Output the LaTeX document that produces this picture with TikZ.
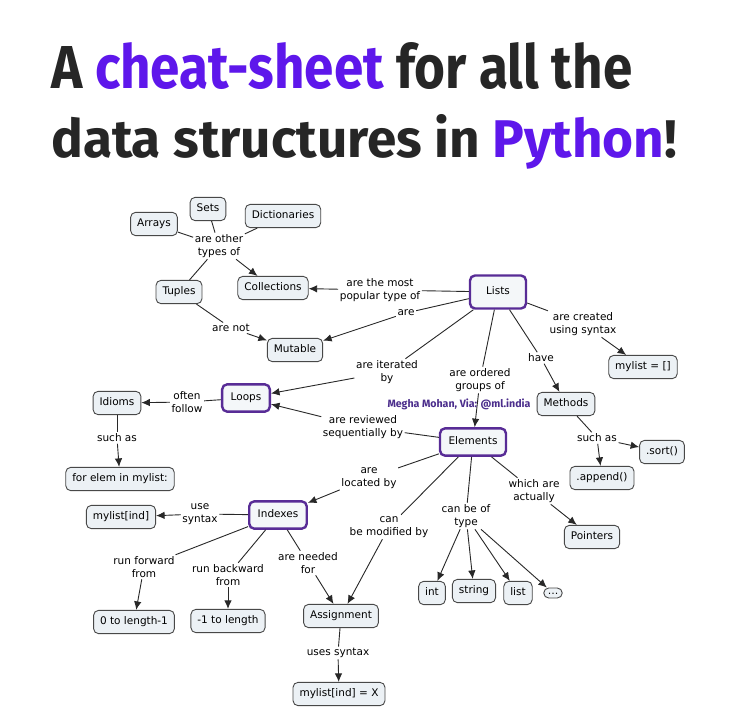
\documentclass[tikz,border=0pt]{standalone}
\usepackage{fontspec}
\setmainfont{DejaVu Sans}
\newfontfamily\titlefont{Fira Sans}
\usetikzlibrary{arrows.meta,positioning}

\definecolor{titlegray}{RGB}{38,38,38}
\definecolor{titlepurple}{RGB}{94,23,235}
\definecolor{keypurple}{RGB}{88,44,150}
\definecolor{markpurple}{RGB}{75,45,140}
\definecolor{boxfill}{RGB}{236,241,245}
\definecolor{linegray}{RGB}{40,40,40}

\tikzset{
    concept/.style={draw=linegray!85, fill=boxfill, rounded corners=5pt, line width=0.9pt,
        inner xsep=6.5pt, inner ysep=6.5pt, text height=7.8pt, text depth=2.5pt,
        font=\fontsize{10.5}{12}\selectfont},
    keyconcept/.style={concept, draw=keypurple, line width=2.4pt, inner xsep=8.5pt, inner ysep=8.5pt,
        fill=boxfill!60},
    link/.style={align=center, inner sep=1.5pt, font=\fontsize{10.5}{13}\selectfont},
    wire/.style={draw=linegray, line width=0.9pt},
    arrow/.style={wire, -{Latex[length=8.5pt,width=7.5pt]}},
}

\begin{document}
\begin{tikzpicture}[x=1pt, y=-1pt]
    \fill[white] (0,0) rectangle (750,710);
    \useasboundingbox (0,0) rectangle (750,710);

    % Title
    \node[anchor=base west, inner sep=0] (title1) at (51,88)
        {\resizebox{581pt}{46pt}{\titlefont\bfseries\color{titlegray}A \textcolor{titlepurple}{cheat-sheet} for all the}};
    \node[anchor=base west, inner sep=0] (title2) at (51,157)
        {\resizebox{626pt}{!}{\titlefont\bfseries\color{titlegray}data structures in \textcolor{titlepurple}{Python}!}};

    % Concepts
    \node[concept] (sets) at (208,209) {Sets};
    \node[concept] (arrays) at (154,224) {Arrays};
    \node[concept] (dicts) at (283,216) {Dictionaries};
    \node[concept] (tuples) at (179,292) {Tuples};
    \node[concept] (collections) at (273,288) {Collections};
    \node[concept] (mutable) at (295,350) {Mutable};
    \node[keyconcept, minimum width=56pt, minimum height=33pt] (lists) at (498,292) {Lists};
    \node[concept] (newlist) at (643,367) {mylist = []};
    \node[concept] (methods) at (566,404) {Methods};
    \node[keyconcept] (loops) at (246,398) {Loops};
    \node[concept] (idioms) at (117,403) {Idioms};
    \node[keyconcept] (elements) at (473,442) {Elements};
    \node[concept] (sort) at (662,452) {.sort()};
    \node[concept] (forelem) at (120,479) {for elem in mylist:};
    \node[concept] (append) at (602,478) {.append()};
    \node[concept] (getitem) at (121,517) {mylist[ind]};
    \node[keyconcept] (indexes) at (278,515) {Indexes};
    \node[concept] (pointers) at (592,537) {Pointers};
    \node[concept] (fwd) at (134,622) {0 to length-1};
    \node[concept] (bwd) at (228,621) {-1 to length};
    \node[concept] (assign) at (341,616) {Assignment};
    \node[concept] (tint) at (432,593) {int};
    \node[concept] (tstr) at (474,591) {string};
    \node[concept] (tlist) at (518,593) {list};
    \node[concept, inner xsep=4pt, inner ysep=3pt, text height=3pt, text depth=1pt] (tmore) at (553,593) {\dots};
    \node[concept] (setitem) at (339,694) {mylist[ind] = X};

    % Linking phrases
    \node[link] (othertypes) at (219,246) {are other\\types of};
    \node[link] (popular) at (380,290) {are the most\\popular type of};
    \node[link] (arenot) at (231,328) {are not};
    \node[link] (are) at (406,313) {are};
    \node[link] (created) at (583,324) {are created\\using syntax};
    \node[link] (have) at (541,358) {have};
    \node[link] (iterated) at (387,372) {are iterated\\by};
    \node[link] (ordered) at (480,380) {are ordered\\groups of};
    \node[link] (follow) at (187,402) {often\\follow};
    \node[link] (reviewed) at (363,427) {are reviewed\\sequentially by};
    \node[link] (idiomsuch) at (117,438) {such as};
    \node[link] (methodsuch) at (597,438) {such as};
    \node[link] (located) at (369,478) {are\\located by};
    \node[link] (actually) at (534,491) {which are\\actually};
    \node[link] (oftype) at (466,516) {can be of\\type};
    \node[link] (modified) at (389,527) {can\\be modified by};
    \node[link] (usesyntax) at (200,514) {use\\syntax};
    \node[link] (forward) at (144,567) {run forward\\from};
    \node[link] (backward) at (228,575) {run backward\\from};
    \node[link] (needed) at (308,563) {are needed\\for};
    \node[link] (assignsyntax) at (338,653) {uses syntax};

    % Connectors
    \draw[wire] (arrays) -- (othertypes);
    \draw[wire] (sets) -- (othertypes);
    \draw[wire] (dicts) -- (othertypes);
    \draw[wire] (othertypes) -- (tuples);
    \draw[arrow] (othertypes) -- (collections);

    \draw[wire] (lists) -- (popular);
    \draw[arrow] (popular) -- (collections);
    \draw[wire] (lists) -- (are);
    \draw[arrow] (are) -- (mutable);
    \draw[wire] (tuples) -- (arenot);
    \draw[arrow] (arenot) -- (mutable);
    \draw[wire] (lists) -- (created);
    \draw[arrow] (created) -- (newlist);
    \draw[wire] (lists) -- (have);
    \draw[arrow] (have) -- (methods);
    \draw[wire] (lists) -- (iterated);
    \draw[arrow] (iterated) -- (loops);
    \draw[wire] (lists) -- (ordered);
    \draw[arrow] (ordered) -- (elements);

    \draw[wire] (elements) -- (reviewed);
    \draw[arrow] (reviewed) -- (loops);
    \draw[wire] (loops) -- (follow);
    \draw[arrow] (follow) -- (idioms);
    \draw[wire] (idioms) -- (idiomsuch);
    \draw[arrow] (idiomsuch) -- (forelem);
    \draw[wire] (methods) -- (methodsuch);
    \draw[arrow] (methodsuch) -- (sort);
    \draw[arrow] (methodsuch) -- (append);

    \draw[wire] (elements) -- (located);
    \draw[arrow] (located) -- (indexes);
    \draw[wire] (elements) -- (actually);
    \draw[arrow] (actually) -- (pointers);
    \draw[wire] (elements) -- (oftype);
    \foreach \t in {tint, tstr, tlist, tmore}
        \draw[arrow] (oftype) -- (\t);
    \draw[wire] (elements) -- (modified);
    \draw[arrow] (modified) -- (assign);

    \draw[wire] (indexes) -- (usesyntax);
    \draw[arrow] (usesyntax) -- (getitem);
    \draw[wire] (indexes) -- (forward);
    \draw[arrow] (forward) -- (fwd);
    \draw[wire] (indexes) -- (backward);
    \draw[arrow] (backward) -- (bwd);
    \draw[wire] (indexes) -- (needed);
    \draw[arrow] (needed) -- (assign);
    \draw[wire] (assign) -- (assignsyntax);
    \draw[arrow] (assignsyntax) -- (setitem);

    % Credit
    \node[inner sep=0] (credit) at (459,404)
        {\resizebox{143pt}{!}{\titlefont\bfseries\color{markpurple}Megha Mohan, Via: @ml.india}};
\end{tikzpicture}
\end{document}
